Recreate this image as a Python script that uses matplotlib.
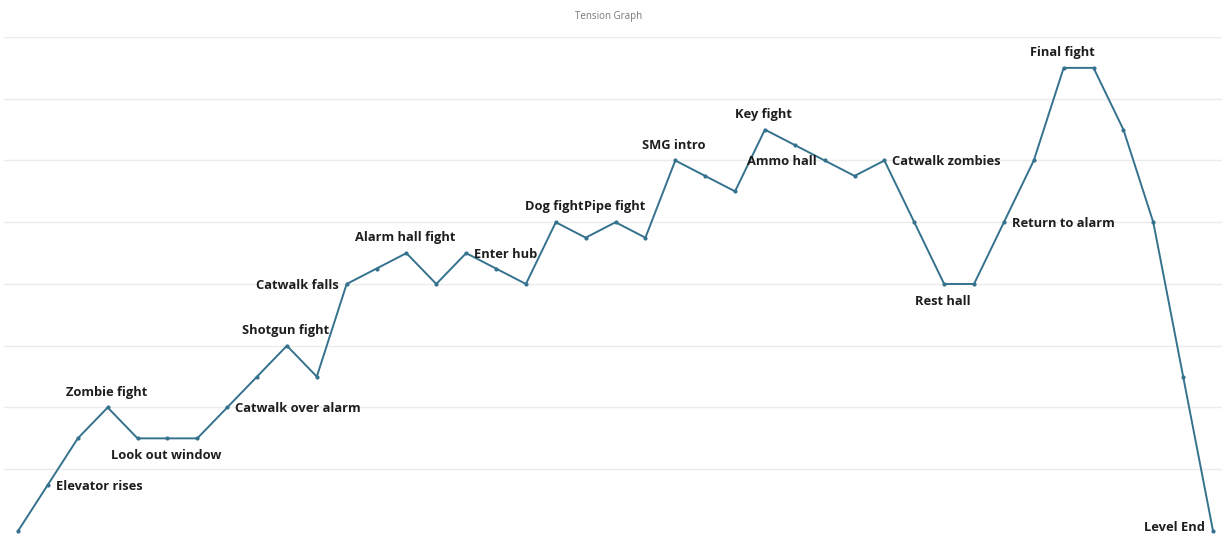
import matplotlib
matplotlib.use("Agg")
import matplotlib.pyplot as plt

tension = [0, 0.75, 1.5, 2, 1.5, 1.5, 1.5, 2, 2.5, 3, 2.5, 4, 4.25, 4.5, 4, 4.5,
           4.25, 4, 5, 4.75, 5, 4.75, 6, 5.75, 5.5, 6.5, 6.25, 6, 5.75, 6,
           5, 4, 4, 5, 6, 7.5, 7.5, 6.5, 5, 2.5, 0]

labels = {1: ("Elevator rises", "right"), 3: ("Zombie fight", "above"),
          5: ("Look out window", "below"), 7: ("Catwalk over alarm", "right"),
          9: ("Shotgun fight", "above"), 11: ("Catwalk falls", "left"),
          13: ("Alarm hall fight", "above"), 15: ("Enter hub", "right"),
          18: ("Dog fight", "above"), 20: ("Pipe fight", "above"),
          22: ("SMG intro", "above"), 25: ("Key fight", "above"),
          27: ("Ammo hall", "left"), 29: ("Catwalk zombies", "right"),
          31: ("Rest hall", "below"), 33: ("Return to alarm", "right"),
          35: ("Final fight", "above"), 40: ("Level End", "left")}

title = "Tension Graph"
grid_levels = [1, 2, 3, 4, 5, 6, 7, 8]

W, H = 1225, 535
fig = plt.figure(figsize=(W / 100, H / 100), dpi=100)
ax = fig.add_axes([4 / W, 0, (1222 - 4) / W, 1 - 37 / H])
x = list(range(len(tension)))
ax.plot(x, tension, color="#35728e", lw=1.4, marker="o", ms=2.0, zorder=3, clip_on=False)
ax.set_xlim(-0.47, 40.3)
ax.set_ylim(-0.065, 8)
for g in grid_levels:
    ax.axhline(g, color="#ebebeb", lw=1.0, zorder=1)
for s in ax.spines.values():
    s.set_visible(False)
ax.set_xticks([])
ax.set_yticks([])

fp = dict(family="Open Sans", fontweight="bold", fontsize=9.3, color="#1e1e1e")
for i, (txt, pos) in labels.items():
    y = tension[i]
    if pos == "right":
        ax.annotate(txt, (i, y), xytext=(5.5, -1), textcoords="offset points",
                    ha="left", va="center", **fp)
    elif pos == "left":
        dy = 2.5 if y == 0 else -1
        ax.annotate(txt, (i, y), xytext=(-5.5, dy), textcoords="offset points",
                    ha="right", va="center", **fp)
    elif pos == "above":
        ax.annotate(txt, (i, y), xytext=(-1, 11), textcoords="offset points",
                    ha="center", va="center", **fp)
    else:
        ax.annotate(txt, (i, y), xytext=(-1, -12.5), textcoords="offset points",
                    ha="center", va="center", **fp)

fig.text(609 / W, 1 - 17 / H, title, ha="center", va="center", fontsize=7,
         color="#777777", family="Open Sans")
fig.savefig("out.png", dpi=100)
